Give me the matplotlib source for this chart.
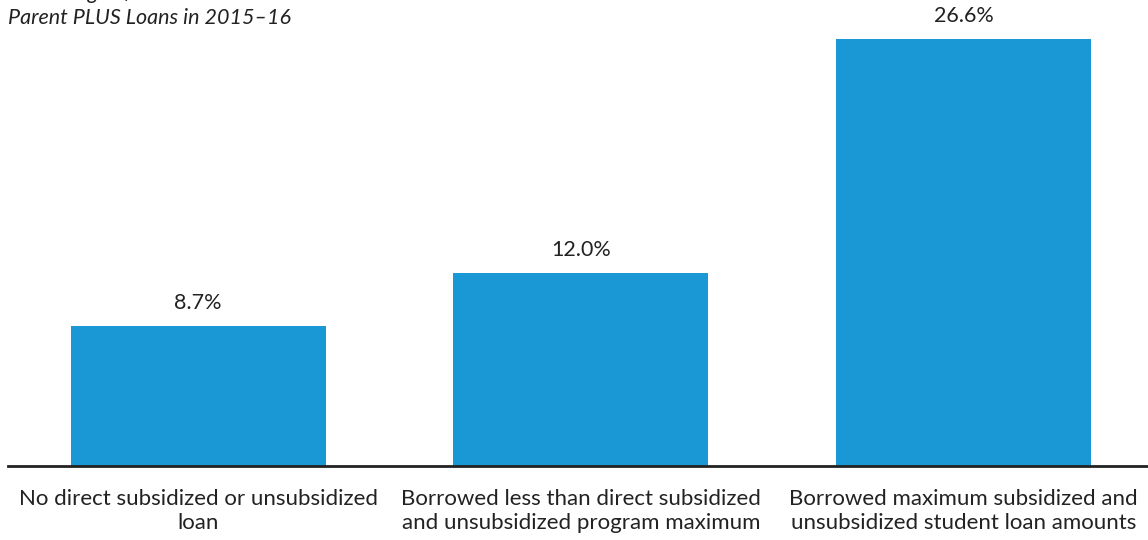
import matplotlib.pyplot as plt

plt.rcParams['font.family'] = ['Lato', 'DejaVu Sans']

categories = [
    "No direct subsidized or unsubsidized\nloan",
    "Borrowed less than direct subsidized\nand unsubsidized program maximum",
    "Borrowed maximum subsidized and\nunsubsidized student loan amounts",
]
values = [8.7, 12.0, 26.6]
value_labels = ["8.7%", "12.0%", "26.6%"]

fig = plt.figure(figsize=(11.48, 5.4), dpi=100)
ax = fig.add_axes([8 / 1148, 74 / 540, 1140 / 1148, 466 / 540])

x = range(len(values))
ax.bar(x, values, width=0.666, color='#1a98d5')
for xi, v, lab in zip(x, values, value_labels):
    ax.annotate(lab, (xi, v), xytext=(0, 9.5), textcoords='offset points',
                ha='center', va='bottom', fontsize=15.5, color='#222222')

ax.set_xlim(-0.497, 2.482)
ax.set_ylim(0, 29.03)
for s in ['top', 'right', 'left']:
    ax.spines[s].set_visible(False)
ax.spines['bottom'].set_linewidth(2)
ax.spines['bottom'].set_color('#222222')
ax.set_yticks([])
ax.set_xticks(list(x))
ax.set_xticklabels(categories, fontsize=16, color='#222222', linespacing=1.28)
ax.tick_params(axis='x', length=0, pad=16.5)

# first title line sits above the top edge, only descenders show
fig.text(8 / 1148, 1 + 1 / 540, "Percentage of Students Whose Parents Took Out",
         fontsize=15.5, style='italic', color='#222222', ha='left', va='baseline')
fig.text(8 / 1148, 1 - 18 / 540, "Parent PLUS Loans in 2015\u201316",
         fontsize=15.5, style='italic', color='#222222', ha='left', va='center')

fig.savefig('out.png', dpi=100)
